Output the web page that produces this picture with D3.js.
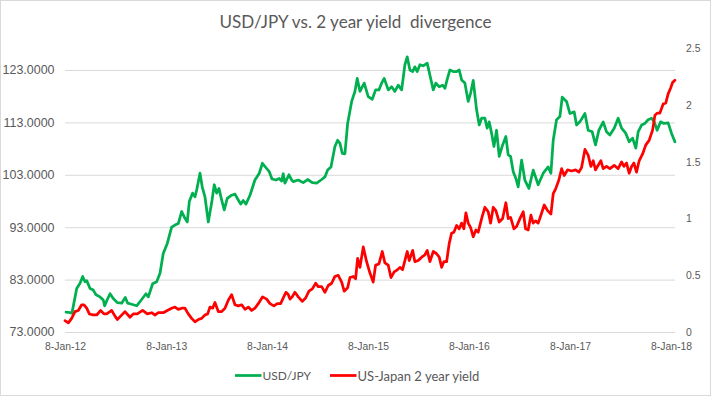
<!DOCTYPE html>
<html>
<head>
<meta charset="utf-8">
<script src="https://cdn.jsdelivr.net/npm/d3@7"></script>
<style>
  html, body { margin: 0; padding: 0; background: #fff; }
  svg { display: block; font-family: Lato, "Open Sans", sans-serif; }
  .grid line { stroke: #d9d9d9; stroke-width: 1; }
  .axis text { fill: #595959; }
  path.series { fill: none; stroke-width: 2.75px; stroke-linejoin: round; stroke-linecap: round; }
</style>
</head>
<body>
<svg id="chart" width="711" height="396"></svg>
<script>
// dates are decimal years counted from 8-Jan-2012 (2012.0 = 8-Jan-12)
const usdjpyDates = [
  2012.010,2012.050,2012.069,2012.116,2012.149,2012.175,2012.198,2012.215,2012.248,2012.280,
  2012.307,2012.347,2012.379,2012.393,2012.419,2012.446,2012.478,2012.518,2012.561,2012.597,
  2012.621,2012.660,2012.710,2012.759,2012.802,2012.825,2012.868,2012.908,2012.941,2012.973,
  2013.013,2013.056,2013.089,2013.122,2013.156,2013.188,2013.211,2013.231,2013.264,2013.287,
  2013.304,2013.337,2013.359,2013.386,2013.419,2013.452,2013.478,2013.502,2013.525,2013.551,
  2013.577,2013.607,2013.650,2013.683,2013.716,2013.740,2013.765,2013.792,2013.832,2013.881,
  2013.924,2013.955,2013.997,2014.023,2014.050,2014.089,2014.122,2014.146,2014.161,2014.178,
  2014.218,2014.245,2014.260,2014.310,2014.359,2014.403,2014.449,2014.492,2014.542,2014.574,
  2014.601,2014.634,2014.673,2014.700,2014.723,2014.746,2014.772,2014.799,2014.839,2014.871,
  2014.894,2014.921,2014.963,2015.003,2015.043,2015.076,2015.109,2015.136,2015.161,2015.201,
  2015.235,2015.267,2015.300,2015.334,2015.366,2015.389,2015.416,2015.443,2015.465,2015.488,
  2015.515,2015.548,2015.587,2015.614,2015.647,2015.673,2015.706,2015.740,2015.762,2015.785,
  2015.812,2015.845,2015.878,2015.904,2015.928,2015.960,2015.993,2016.017,2016.043,2016.076,
  2016.102,2016.126,2016.158,2016.181,2016.201,2016.225,2016.248,2016.274,2016.300,2016.334,
  2016.366,2016.389,2016.413,2016.439,2016.465,2016.488,2016.522,2016.554,2016.594,2016.637,
  2016.686,2016.736,2016.785,2016.812,2016.835,2016.868,2016.901,2016.924,2016.967,2017.000,
  2017.043,2017.066,2017.099,2017.149,2017.181,2017.221,2017.254,2017.287,2017.330,2017.363,
  2017.396,2017.439,2017.478,2017.512,2017.554,2017.587,2017.621,2017.653,2017.676,2017.710,
  2017.743,2017.775,2017.809,2017.835,2017.864,2017.898,2017.931,2017.973,2018.007,2018.040
];
const usdjpy = [
  76.8,76.7,76.6,81.3,82.3,83.6,82.6,82.8,81.3,81.0,
  80.1,79.7,79.1,78.0,79.2,80.3,79.4,78.6,78.5,79.6,
  78.5,78.3,78.0,79.2,80.3,79.7,82.2,82.6,84.2,88.0,
  89.9,93.0,93.4,93.7,96.0,94.7,94.0,97.9,99.5,98.8,
  100.1,103.3,100.7,98.8,94.0,97.6,101.1,99.5,100.4,98.2,
  96.3,98.5,99.1,99.3,98.2,97.4,98.1,97.4,99.1,102.0,
  103.3,105.2,104.2,103.6,102.2,102.0,102.3,101.8,103.2,101.4,
  103.0,102.0,101.7,102.0,101.5,102.1,101.5,101.4,102.1,102.6,
  103.9,104.5,108.4,109.6,109.0,107.1,107.0,112.8,117.0,118.9,
  121.4,118.9,120.5,117.9,117.4,119.2,119.2,120.5,121.4,119.2,
  119.8,118.9,120.1,119.2,124.0,125.5,123.0,122.7,123.6,122.7,
  124.0,123.8,124.3,122.0,119.2,120.5,119.8,120.1,119.5,121.2,
  123.0,122.7,122.7,123.0,121.1,120.5,117.0,118.6,121.0,115.4,
  112.5,113.8,113.8,111.9,113.1,110.9,108.4,111.5,106.5,108.7,
  110.3,106.8,106.5,103.6,102.3,100.7,105.8,102.0,100.4,103.9,
  101.1,103.3,104.5,103.3,109.6,113.5,114.1,117.8,117.0,114.7,
  115.0,112.5,113.1,114.7,111.5,111.2,108.7,111.5,113.1,111.2,
  110.6,111.9,113.8,111.9,110.9,109.3,110.0,108.1,111.2,112.5,
  112.8,113.5,113.8,113.1,111.5,113.1,112.8,112.9,110.9,109.3
];
const spreadDates = [
  2012.000,2012.033,2012.066,2012.099,2012.132,2012.165,2012.188,2012.215,2012.241,2012.280,
  2012.314,2012.353,2012.386,2012.413,2012.462,2012.495,2012.518,2012.551,2012.594,2012.644,
  2012.676,2012.716,2012.769,2012.815,2012.858,2012.891,2012.924,2012.973,2013.013,2013.056,
  2013.089,2013.122,2013.156,2013.188,2013.221,2013.254,2013.287,2013.320,2013.353,2013.386,
  2013.413,2013.436,2013.462,2013.485,2013.518,2013.551,2013.584,2013.617,2013.650,2013.683,
  2013.716,2013.750,2013.782,2013.815,2013.849,2013.881,2013.914,2013.957,2013.997,2014.030,
  2014.069,2014.102,2014.136,2014.161,2014.188,2014.211,2014.228,2014.250,2014.277,2014.310,
  2014.350,2014.383,2014.416,2014.449,2014.483,2014.508,2014.542,2014.574,2014.607,2014.641,
  2014.673,2014.706,2014.740,2014.765,2014.799,2014.822,2014.855,2014.878,2014.898,2014.921,
  2014.954,2014.987,2015.020,2015.052,2015.076,2015.109,2015.142,2015.168,2015.201,2015.228,
  2015.260,2015.294,2015.317,2015.343,2015.366,2015.389,2015.409,2015.443,2015.465,2015.498,
  2015.532,2015.564,2015.587,2015.614,2015.647,2015.680,2015.706,2015.730,2015.752,2015.779,
  2015.805,2015.828,2015.851,2015.878,2015.904,2015.928,2015.950,2015.970,2015.993,2016.017,
  2016.043,2016.069,2016.092,2016.126,2016.158,2016.191,2016.215,2016.241,2016.267,2016.300,
  2016.334,2016.366,2016.389,2016.413,2016.446,2016.472,2016.505,2016.538,2016.561,2016.587,
  2016.614,2016.637,2016.660,2016.686,2016.713,2016.746,2016.779,2016.812,2016.835,2016.858,
  2016.891,2016.918,2016.944,2016.977,2017.017,2017.056,2017.089,2017.116,2017.149,2017.181,
  2017.208,2017.231,2017.254,2017.280,2017.307,2017.330,2017.363,2017.396,2017.439,2017.478,
  2017.512,2017.535,2017.561,2017.587,2017.611,2017.634,2017.660,2017.686,2017.720,2017.752,
  2017.785,2017.819,2017.842,2017.864,2017.891,2017.924,2017.950,2017.973,2017.997,2018.017,2018.040
];
const spread = [
  0.10,0.08,0.12,0.18,0.19,0.24,0.24,0.21,0.16,0.15,
  0.15,0.19,0.16,0.16,0.19,0.14,0.11,0.14,0.18,0.13,
  0.16,0.16,0.19,0.16,0.17,0.15,0.17,0.17,0.19,0.21,
  0.22,0.20,0.21,0.21,0.16,0.12,0.09,0.11,0.12,0.15,
  0.16,0.22,0.21,0.26,0.18,0.18,0.21,0.28,0.33,0.24,
  0.23,0.24,0.20,0.22,0.19,0.21,0.25,0.31,0.29,0.25,
  0.23,0.25,0.25,0.30,0.35,0.33,0.29,0.31,0.35,0.31,
  0.27,0.30,0.36,0.38,0.43,0.40,0.40,0.35,0.41,0.43,
  0.49,0.50,0.44,0.36,0.39,0.48,0.49,0.47,0.65,0.57,
  0.75,0.62,0.52,0.44,0.59,0.60,0.71,0.61,0.59,0.48,
  0.53,0.55,0.57,0.55,0.63,0.71,0.63,0.72,0.62,0.63,
  0.66,0.68,0.72,0.62,0.71,0.69,0.66,0.57,0.62,0.62,
  0.78,0.87,0.88,0.94,0.91,0.96,0.91,1.05,0.96,0.92,
  0.84,0.90,0.88,1.00,1.10,1.06,0.96,1.10,1.07,0.97,
  1.00,1.14,1.00,1.01,0.91,0.93,1.00,1.06,0.91,0.90,
  1.03,0.96,0.98,0.96,1.03,1.12,1.07,1.04,1.22,1.26,
  1.34,1.44,1.38,1.43,1.42,1.43,1.41,1.45,1.61,1.56,
  1.46,1.51,1.43,1.47,1.51,1.44,1.46,1.44,1.47,1.44,
  1.50,1.46,1.49,1.40,1.46,1.49,1.41,1.51,1.57,1.65,
  1.69,1.78,1.91,1.93,1.93,2.01,2.02,2.10,2.15,2.20,2.22
];
const xTickDates = ["2012-01-08","2013-01-08","2014-01-08","2015-01-08","2016-01-08","2017-01-08","2018-01-08"];
const leftTicks = [73, 83, 93, 103, 113, 123];
const rightTicks = [0, 0.5, 1, 1.5, 2, 2.5];
const seriesNames = ["USD/JPY", "US-Japan 2 year yield"];
const seriesColors = ["#00b050", "#ff0000"];
const titleText = "USD/JPY vs. 2 year yield  divergence";

const W = 711, H = 396;
const plot = { left: 65, right: 675, top: 48.5, bottom: 332 };

const parseDay = d3.timeParse("%Y-%m-%d");
const origin = parseDay("2012-01-08");
const toDate = t => new Date(origin.getTime() + (t - 2012) * 365.25 * 864e5);

const svg = d3.select("#chart");

// outer border like the Excel chart area
svg.append("rect")
  .attr("x", 0.5).attr("y", 0.5)
  .attr("width", W - 1).attr("height", H - 1)
  .attr("fill", "#fff").attr("stroke", "#d9d9d9");

const x = d3.scaleTime()
  .domain([origin, parseDay("2018-01-08")])
  .range([plot.left, 671]);
const yL = d3.scaleLinear().domain([73, 127.1]).range([plot.bottom, plot.top]);
const yR = d3.scaleLinear().domain([0, 2.5]).range([plot.bottom, plot.top]);

// scale a group of labels so a reference label hits the measured width
function fitGroup(texts, refNode, target) {
  const fs = parseFloat(d3.select(refNode).attr("font-size"));
  const w = refNode.getComputedTextLength();
  texts.attr("font-size", fs * target / w);
}

// left axis with gridlines
const gL = svg.append("g")
  .attr("class", "axis grid")
  .attr("transform", "translate(" + plot.left + ",0)")
  .call(d3.axisLeft(yL)
    .tickValues(leftTicks)
    .tickFormat(d3.format(".4f"))
    .tickSizeInner(-(plot.right - plot.left))
    .tickSizeOuter(0)
    .tickPadding(10.5));
gL.select(".domain").remove();
gL.selectAll("text").attr("font-size", 12).attr("font-family", null);
fitGroup(gL.selectAll("text"), gL.select("text").node(), 45);

// right axis
const gR = svg.append("g")
  .attr("class", "axis")
  .attr("transform", "translate(" + plot.right + ",0)")
  .call(d3.axisRight(yR)
    .tickValues(rightTicks)
    .tickFormat(d3.format(""))
    .tickSize(0)
    .tickPadding(11));
gR.select(".domain").remove();
gR.selectAll("text").attr("font-size", 12).attr("font-family", null);
fitGroup(gR.selectAll("text"), gR.selectAll("text").filter(d => d === 2.5).node(), 14.5);

// bottom axis
const gX = svg.append("g")
  .attr("class", "axis")
  .attr("transform", "translate(0," + plot.bottom + ")")
  .call(d3.axisBottom(x)
    .tickValues(xTickDates.map(parseDay))
    .tickFormat(d3.timeFormat("%-d-%b-%y"))
    .tickSize(0));
gX.select(".domain").remove();
gX.selectAll("text").attr("font-size", 12).attr("font-family", null)
  .attr("y", 14.7).attr("dy", "0.35em");
fitGroup(gX.selectAll("text"), gX.select("text").node(), 41);

// series lines
const usdData = d3.zip(usdjpyDates, usdjpy);
const spreadData = d3.zip(spreadDates, spread);

const lineL = d3.line().x(d => x(toDate(d[0]))).y(d => yL(d[1]));
const lineR = d3.line().x(d => x(toDate(d[0]))).y(d => yR(d[1]));

svg.append("path").datum(usdData)
  .attr("class", "series").attr("stroke", seriesColors[0]).attr("d", lineL);
svg.append("path").datum(spreadData)
  .attr("class", "series").attr("stroke", seriesColors[1]).attr("d", lineR);

// title (keep the double space before "divergence")
const title = svg.append("text")
  .attr("x", 355.5).attr("y", 21)
  .attr("text-anchor", "middle")
  .attr("dominant-baseline", "central")
  .attr("fill", "#595959")
  .attr("font-size", 18.67)
  .style("white-space", "pre")
  .attr("xml:space", "preserve")
  .text(titleText);
fitGroup(title, title.node(), 272);

// legend
const legendItems = [
  { name: seriesNames[0], color: seriesColors[0], x0: 235, textW: 48.5 },
  { name: seriesNames[1], color: seriesColors[1], x0: 330, textW: 122 }
];
const legY = 375.5;
const leg = svg.append("g").attr("class", "legend");
legendItems.forEach(it => {
  leg.append("line")
    .attr("x1", it.x0).attr("x2", it.x0 + 26.5)
    .attr("y1", legY).attr("y2", legY)
    .attr("stroke", it.color).attr("stroke-width", 2.75);
  const t = leg.append("text")
    .attr("x", it.x0 + 27.5).attr("y", legY)
    .attr("dominant-baseline", "central")
    .attr("fill", "#595959")
    .attr("font-size", 12)
    .text(it.name);
  fitGroup(t, t.node(), it.textW);
});
</script>
</body>
</html>
